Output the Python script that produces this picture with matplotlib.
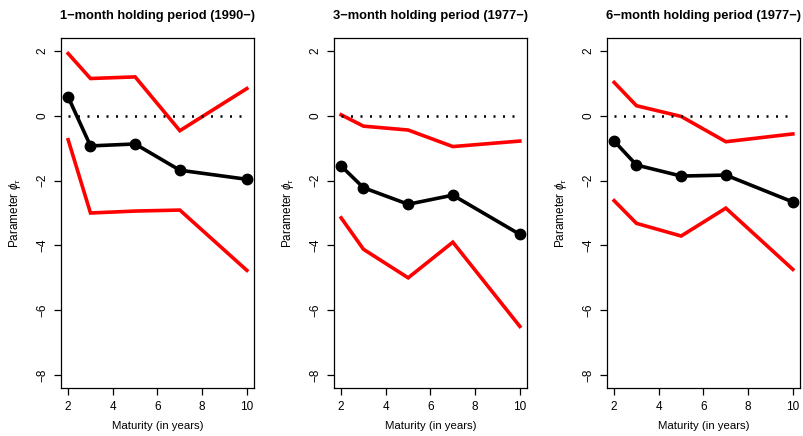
import matplotlib
matplotlib.use("Agg")
import matplotlib.pyplot as plt

plt.rcParams['font.family'] = ['Liberation Sans', 'DejaVu Sans']
plt.rcParams['axes.unicode_minus'] = True
plt.rcParams['mathtext.fontset'] = 'custom'
plt.rcParams['mathtext.rm'] = 'Liberation Sans'
plt.rcParams['mathtext.it'] = 'Liberation Sans:italic'

maturities = [2, 3, 5, 7, 10]
titles = ["1\u2212month holding period (1990\u2212)",
          "3\u2212month holding period (1977\u2212)",
          "6\u2212month holding period (1977\u2212)"]

est_1m = [0.58, -0.93, -0.87, -1.68, -1.96]
upper_1m = [1.92, 1.15, 1.20, -0.46, 0.84]
lower_1m = [-0.74, -3.00, -2.94, -2.91, -4.77]

est_3m = [-1.55, -2.22, -2.73, -2.45, -3.66]
upper_3m = [0.03, -0.32, -0.44, -0.95, -0.78]
lower_3m = [-3.15, -4.12, -5.00, -3.90, -6.50]

est_6m = [-0.78, -1.52, -1.86, -1.83, -2.66]
upper_6m = [1.03, 0.31, -0.02, -0.80, -0.56]
lower_6m = [-2.62, -3.32, -3.71, -2.85, -4.74]

panels = [(est_1m, upper_1m, lower_1m),
          (est_3m, upper_3m, lower_3m),
          (est_6m, upper_6m, lower_6m)]

xticks = [2, 4, 6, 8, 10]
yticks = [-8, -6, -4, -2, 0, 2]

fig = plt.figure(figsize=(8.04, 4.36), dpi=100)
lefts = [61 / 804, 334 / 804, 607 / 804]
width = 193 / 804
bottom = 1 - 388 / 436
height = 350 / 436

for i, (est, up, lo) in enumerate(panels):
    ax = fig.add_axes([lefts[i], bottom, width, height])
    ax.plot(maturities, up, color='#ff0000', lw=2.6, solid_joinstyle='miter')
    ax.plot(maturities, lo, color='#ff0000', lw=2.6, solid_joinstyle='miter')
    ax.plot(maturities, est, color='black', lw=2.6, marker='o', markersize=7.5)
    ax.plot([maturities[0], maturities[-1]], [0, 0], color='black', lw=1.8,
            linestyle=(0, (0.8, 3.0)), dash_capstyle='butt')
    ax.set_xlim(1.68, 10.32)
    ax.set_ylim(-8.4, 2.4)
    ax.set_xticks(xticks)
    ax.set_yticks(yticks)
    ax.set_yticklabels([("\u2212%d" % -v) if v < 0 else str(v) for v in yticks],
                       rotation=90, va='center')
    ax.tick_params(direction='out', length=5, width=0.9, labelsize=8.5, pad=4)
    ax.tick_params(axis='y', pad=4)
    for s in ax.spines.values():
        s.set_linewidth(0.9)
    ax.set_title(titles[i], fontsize=9.3, fontweight='bold', pad=14)
    ax.set_xlabel("Maturity (in years)", fontsize=8.2, labelpad=6)
    ax.set_ylabel(r"Parameter $\phi_\tau$", fontsize=8.5, labelpad=10)

fig.savefig("out.png", dpi=100)
